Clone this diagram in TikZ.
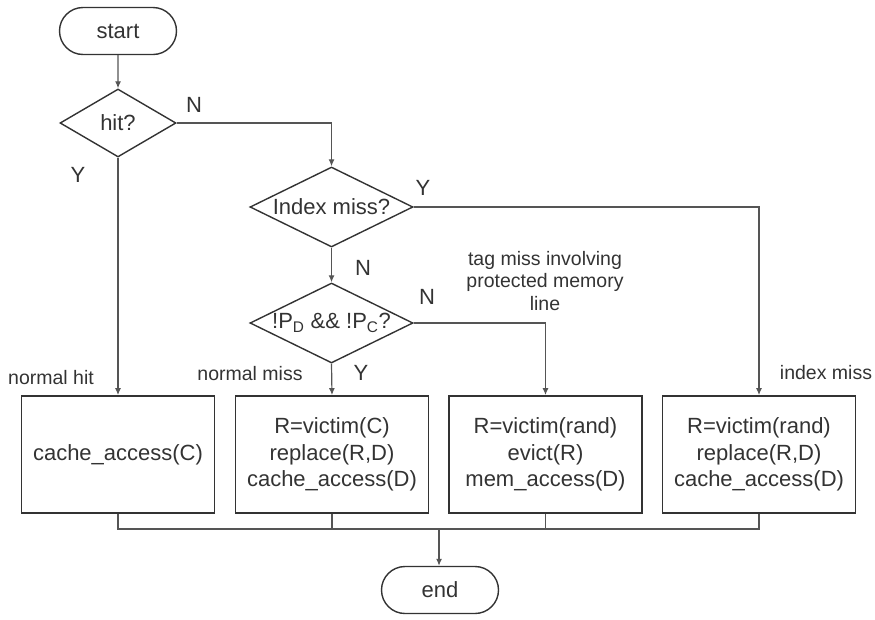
\documentclass[tikz,border=0pt]{standalone}
\usepackage{fontspec}
\setmainfont{Liberation Sans}
\usetikzlibrary{shapes.geometric,shapes.misc,arrows.meta}
\definecolor{ink}{HTML}{333333}
\definecolor{wire}{HTML}{555555}
\begin{document}
\begin{tikzpicture}[x=1pt,y=-1pt,
  every node/.style={text=ink},
  big/.style={font=\fontsize{22}{26.5}\selectfont},
  small/.style={font=\fontsize{19.5}{22.5}\selectfont},
  term/.style={rounded rectangle, draw=ink, line width=1.4pt, minimum width=117pt, minimum height=47pt, inner sep=0pt, big},
  dec/.style={diamond, draw=ink, line width=1.4pt, minimum width=163pt, minimum height=80pt, inner sep=0pt, big},
  proc/.style={rectangle, draw=ink, line width=1.8pt, minimum width=193pt, minimum height=117pt, inner sep=0pt, align=center, big},
  conn/.style={draw=wire, line width=1.2pt},
  arr/.style={conn, -{Latex[length=7pt,width=6pt]}},
  lab/.style={big, inner sep=0pt},
  note/.style={small, inner sep=0pt, align=center}]
\useasboundingbox (0,0) rectangle (875,619);
\node[term] (start) at (118,31) {start};
\node[dec, minimum width=116pt, minimum height=68pt] (hit) at (118,123) {\makebox[0pt]{hit?}};
\node[dec] (idx) at (331.5,207) {\makebox[0pt]{Index miss?}};
\node[dec] (pd) at (331.5,323) {\makebox[0pt]{!P\textsubscript{D} \&\& !P\textsubscript{C}?}};
\node[proc] (b1) at (118,454.5) {cache\_access(C)};
\node[proc] (b2) at (332,454.5) {R=victim(C)\\replace(R,D)\\cache\_access(D)};
\node[proc] (b3) at (545.5,454.5) {R=victim(rand)\\evict(R)\\mem\_access(D)};
\node[proc] (b4) at (759,454.5) {R=victim(rand)\\replace(R,D)\\cache\_access(D)};
\node[term] (end) at (440,590) {end};
\coordinate (m) at (439,529);

\draw[arr] (start) -- (hit);
\draw[arr] (hit.east) -| (idx.north);
\draw[arr] (hit.south) -- (b1.north);
\draw[arr] (idx.east) -| (b4.north);
\draw[arr] (idx.south) -- (pd.north);
\draw[arr] (pd.east) -| (b3.north);
\draw[arr] (pd.south) -- (b2.north);
\draw[conn] (b1.south) |- (m);
\draw[conn] (b4.south) |- (m);
\draw[conn] (b2.south) -- (b2.south |- m);
\draw[conn] (b3.south) -- (b3.south |- m);
\draw[arr] (m) -- (end.north -| m);

\node[lab] (n1) at (194,105) {N};
\node[lab] (y1) at (78,175) {Y};
\node[lab] (y2) at (423,188) {Y};
\node[lab] (n2) at (363,268) {N};
\node[lab] (n3) at (427,297) {N};
\node[lab] (y3) at (361,373) {Y};
\node[note] (t1) at (545,281) {tag miss involving\\protected memory\\line};
\node[note] (l1) at (51,378) {normal hit};
\node[note] (l2) at (250,374) {normal miss};
\node[note] (l3) at (826,373) {index miss};
\end{tikzpicture}
\end{document}
